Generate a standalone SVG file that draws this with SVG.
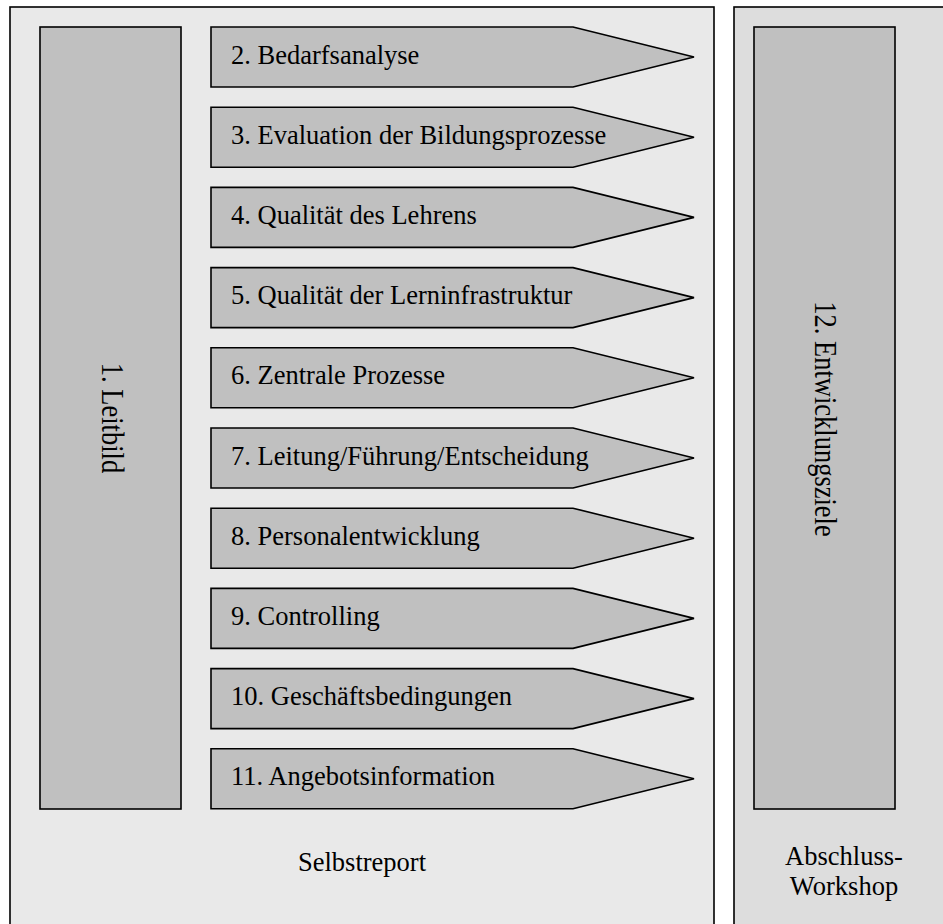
<svg xmlns="http://www.w3.org/2000/svg" width="943" height="924" viewBox="0 0 943 924">
<style>
.outerL{fill:#e9e9e9;stroke:#000;stroke-width:1.6}
.outerR{fill:#dddddd;stroke:#000;stroke-width:1.6}
.box{fill:#c0c0c0;stroke:#000;stroke-width:1.6}
.arr{fill:#c0c0c0;stroke:#000;stroke-width:1.6;stroke-linejoin:miter}
text{font-family:"Liberation Serif","Times New Roman",serif;font-size:26.5px;fill:#000}
.c{text-anchor:middle}
</style>
<rect width="943" height="924" fill="#ffffff"/>
<g id="selbstreport">
<rect class="outerL" x="10" y="7" width="704" height="930"/>
<text class="c" x="362" y="871">Selbstreport</text>
</g>
<g id="abschluss">
<rect class="outerR" x="734" y="7" width="230" height="930"/>
<text class="c" x="844" y="865">Abschluss-</text>
<text class="c" x="844" y="895">Workshop</text>
</g>
<g id="n1">
<rect class="box" x="40" y="27" width="141" height="782"/>
<text class="c" transform="translate(102,418) rotate(90) scale(1,1.2)">1. Leitbild</text>
</g>
<g id="n12">
<rect class="box" x="754" y="27" width="141" height="782"/>
<text class="c" transform="translate(815,419) rotate(90) scale(1,1.2)">12. Entwicklungsziele</text>
</g>
<g id="n2">
<polygon class="arr" points="211,27 573,27 694,57 573,87 211,87"/>
<text x="231" y="63.5">2. Bedarfsanalyse</text>
</g>
<g id="n3">
<polygon class="arr" points="211,107.2 573,107.2 694,137.2 573,167.2 211,167.2"/>
<text x="231" y="143.7">3. Evaluation der Bildungsprozesse</text>
</g>
<g id="n4">
<polygon class="arr" points="211,187.4 573,187.4 694,217.4 573,247.4 211,247.4"/>
<text x="231" y="223.9">4. Qualität des Lehrens</text>
</g>
<g id="n5">
<polygon class="arr" points="211,267.6 573,267.6 694,297.6 573,327.6 211,327.6"/>
<text x="231" y="304.1">5. Qualität der Lerninfrastruktur</text>
</g>
<g id="n6">
<polygon class="arr" points="211,347.8 573,347.8 694,377.8 573,407.8 211,407.8"/>
<text x="231" y="384.3">6. Zentrale Prozesse</text>
</g>
<g id="n7">
<polygon class="arr" points="211,428 573,428 694,458 573,488 211,488"/>
<text x="231" y="464.5">7. Leitung/Führung/Entscheidung</text>
</g>
<g id="n8">
<polygon class="arr" points="211,508.2 573,508.2 694,538.2 573,568.2 211,568.2"/>
<text x="231" y="544.7">8. Personalentwicklung</text>
</g>
<g id="n9">
<polygon class="arr" points="211,588.4 573,588.4 694,618.4 573,648.4 211,648.4"/>
<text x="231" y="624.9">9. Controlling</text>
</g>
<g id="n10">
<polygon class="arr" points="211,668.6 573,668.6 694,698.6 573,728.6 211,728.6"/>
<text x="231" y="705.1">10. Geschäftsbedingungen</text>
</g>
<g id="n11">
<polygon class="arr" points="211,748.8 573,748.8 694,778.8 573,808.8 211,808.8"/>
<text x="231" y="785.3">11. Angebotsinformation</text>
</g>
<g id="connectors"></g>
</svg>
